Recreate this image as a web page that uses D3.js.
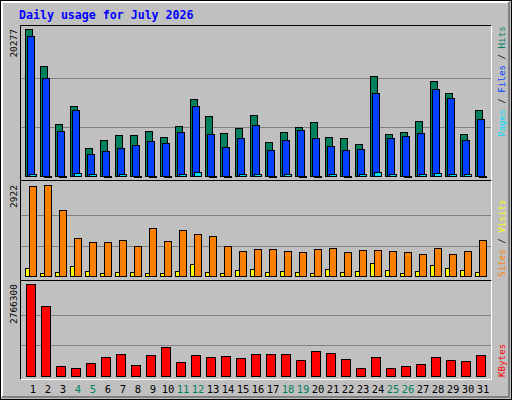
<!DOCTYPE html>
<html><head><meta charset="utf-8">
<script src="https://cdn.jsdelivr.net/npm/d3@7"></script>
<style>body{margin:0;background:#fff}text{font-family:"DejaVu Sans Mono",monospace}</style>
</head><body>
<svg id="chart" width="512" height="400"></svg>
<script>
// daily figures
var days = d3.range(1, 32);
var weekends = [4, 5, 11, 12, 18, 19, 25, 26];
var hits = [20277,15162,7143,9632,3825,4931,5622,5622,6175,5346,6867,10600,8249,5899,6590,8387,4655,6037,6728,7420,5346,5208,4378,13779,5761,6037,7558,13088,11429,5761,9079];
var files = [19310,13503,6175,9079,2995,3410,3825,4240,4793,4516,6037,9632,5761,3963,5208,7005,3548,4931,6314,5208,4102,3548,3687,11429,5208,5484,5899,11982,10738,4931,7834];
var pages = [320,60,60,450,320,60,320,60,60,60,320,600,60,60,320,320,60,320,60,60,320,60,320,600,320,60,320,450,320,320,60];
var visits = [2900,2922,2111,1216,1088,1088,1152,960,1536,1120,1472,1344,1280,960,800,864,864,800,768,864,896,768,832,832,800,768,704,896,704,800,1152];
var sites = [256,96,128,320,160,96,128,128,96,96,160,384,128,96,192,224,128,160,128,96,224,128,160,416,192,96,160,352,256,192,128];
var kbytes = [2766300,2100000,282700,222100,373500,555300,646200,313000,615900,858200,403800,615900,555300,585600,525000,646200,646200,646200,464400,737000,676500,494700,222100,555300,222100,282700,343300,555300,464400,434100,615900];

var svg = d3.select('#chart');
var x = d3.scaleLinear().domain([1, 31]).range([25, 475]);

// outer frame
svg.append('rect').attr('x', 0.5).attr('y', 0.5).attr('width', 511).attr('height', 399).attr('fill', '#c0c0c0').attr('stroke', '#000');
svg.append('path').attr('d', 'M2,397V2H509').attr('fill', 'none').attr('stroke', '#fff').attr('stroke-width', 2);
svg.append('path').attr('d', 'M2,397H509V2').attr('fill', 'none').attr('stroke', '#808080').attr('stroke-width', 2);

svg.append('text').attr('x', 19).attr('y', 19).attr('fill', '#0000ff').attr('font-weight', 'bold')
    .style('font-size', '11.6px').text('Daily usage for July 2026');

function panel(y0, y1, top, bottom, max) {
    svg.append('path').attr('d', 'M20.5,' + (y1 + 0.5) + 'V' + (y0 + 0.5) + 'H491.5').attr('fill', 'none').attr('stroke', '#000');
    svg.append('path').attr('d', 'M20.5,' + (y1 + 0.5) + 'H491.5V' + (y0 + 0.5)).attr('fill', 'none').attr('stroke', '#fff');
    var y = d3.scaleLinear().domain([0, max]).range([bottom, top]);
    [1 / 3, 2 / 3].forEach(function (f) {
        svg.append('line').attr('x1', 21).attr('x2', 491).attr('y1', Math.round(y(max * f)) + 0.5).attr('y2', Math.round(y(max * f)) + 0.5)
            .attr('stroke', '#808080');
    });
    svg.append('text').attr('transform', 'translate(17,' + top + ')rotate(-90)').attr('text-anchor', 'end')
        .style('font-size', '9.5px').attr('fill', '#000').text(max);
    return y;
}

function bars(values, y, off, w, color) {
    svg.append('g').selectAll('rect').data(values).enter().append('rect')
        .attr('x', function (d, i) { return x(i + 1) + off + 0.5; })
        .attr('y', function (d) { return Math.round(y(d)) + 0.5; })
        .attr('width', w)
        .attr('height', function (d) { return Math.max(1, Math.round(y(0)) - Math.round(y(d))); })
        .attr('fill', color).attr('stroke', '#000');
}

var y1 = panel(25, 180, 29, 176, d3.max(hits));
bars(hits, y1, 0, 7, '#00805c');
bars(files, y1, 2, 7, '#0040ff');
bars(pages, y1, 4, 7, '#00e0ff');

var y2 = panel(180, 280, 185, 276, d3.max(visits));
bars(sites, y2, 0, 4, '#ffff00');
bars(visits, y2, 4, 7, '#ff8000');

var y3 = panel(280, 379, 284, 375.5, d3.max(kbytes));
bars(kbytes, y3, 1, 9, '#ff0000');

svg.append('g').selectAll('text').data(days).enter().append('text')
    .attr('x', function (d) { return x(d) + 8; }).attr('y', 393).attr('text-anchor', 'middle')
    .style('font-size', '10.5px')
    .attr('fill', function (d) { return weekends.indexOf(d) >= 0 ? '#00805c' : '#000'; })
    .text(function (d) { return d; });

function sideLabel(bottom, parts) {
    var t = svg.append('text').attr('transform', 'translate(505,' + bottom + ')rotate(-90)').style('font-size', '9.2px');
    parts.forEach(function (p) { t.append('tspan').attr('fill', p[1]).text(p[0]); });
}
sideLabel(137, [['Pages', '#00e0ff'], [' / ', '#000'], ['Files', '#0040ff'], [' / ', '#000'], ['Hits', '#00805c']]);
sideLabel(277, [['Sites', '#ff8000'], [' / ', '#000'], ['Visits', '#ffff00']]);
sideLabel(377, [['KBytes', '#ff0000']]);
</script>
</body></html>
